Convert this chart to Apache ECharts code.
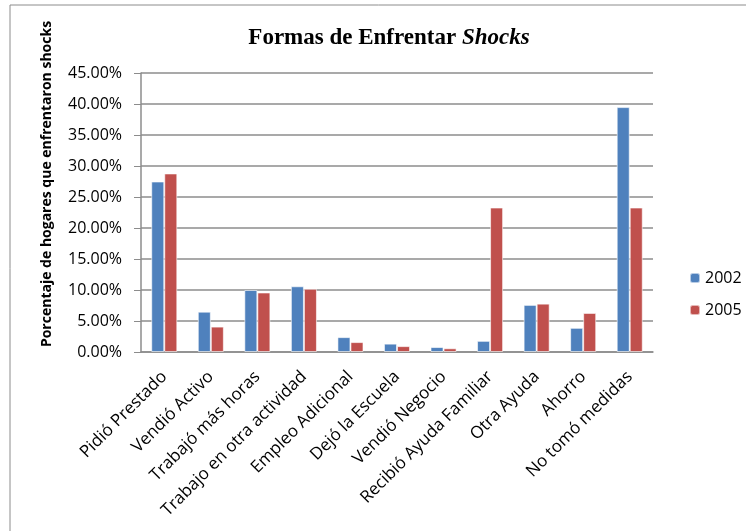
<!DOCTYPE html>
<html>
<head>
    <meta charset="utf-8"/>
    <title>Formas de Enfrentar Shocks</title>
    <script src="https://cdn.jsdelivr.net/npm/echarts@6/dist/echarts.min.js"></script>
</head>
<body style="margin:0">
<div id="main" style="width: 746px;height:531px;"></div>
<script type="text/javascript">
    // categorías y valores (%)
    var categorias = ['Pidió Prestado', 'Vendió Activo', 'Trabajó más horas', 'Trabajo en otra actividad',
        'Empleo Adicional', 'Dejó la Escuela', 'Vendió Negocio', 'Recibió Ayuda Familiar',
        'Otra Ayuda', 'Ahorro', 'No tomó medidas'];
    var datos2002 = [27.5, 6.5, 10.0, 10.6, 2.4, 1.35, 0.8, 1.8, 7.6, 3.9, 39.5];
    var datos2005 = [28.8, 4.1, 9.6, 10.2, 1.6, 0.95, 0.6, 23.3, 7.8, 6.3, 23.3];
    var series = ['2002', '2005'];
    var colores = ['#4F81BD', '#C0504D'];

    var myChart = echarts.init(document.getElementById('main'));
    var option = {
        animation: false,
        backgroundColor: '#fff',
        color: colores,
        title: {
            text: '{a|Formas de Enfrentar }{b|Shocks}',
            left: 384,
            top: 22,
            textAlign: 'center',
            textStyle: {
                rich: {
                    a: { fontFamily: 'Liberation Serif', fontWeight: 'bold', fontSize: 23, color: '#000' },
                    b: { fontFamily: 'Liberation Serif', fontWeight: 'bold', fontStyle: 'italic', fontSize: 23, color: '#000' }
                }
            }
        },
        legend: {
            orient: 'vertical',
            left: 684,
            top: 265,
            itemWidth: 10,
            itemHeight: 10,
            itemGap: 16,
            textStyle: { fontFamily: 'Open Sans', fontSize: 16, color: '#000' },
            data: series
        },
        grid: { left: 141, right: 93, top: 73, bottom: 179 },
        xAxis: {
            type: 'category',
            data: categorias,
            axisLine: { lineStyle: { color: '#8c8c8c', width: 1.5 } },
            axisTick: { show: false },
            axisLabel: {
                interval: 0,
                rotate: 45,
                margin: 22,
                fontFamily: 'Open Sans',
                fontSize: 17,
                color: '#000'
            }
        },
        yAxis: {
            type: 'value',
            min: 0,
            max: 45,
            interval: 5,
            axisLine: { show: true, lineStyle: { color: '#8c8c8c', width: 1.5 } },
            axisTick: { show: true, inside: false, length: 7, lineStyle: { color: '#8c8c8c' } },
            splitLine: { lineStyle: { color: '#8c8c8c', width: 1.5 } },
            axisLabel: {
                margin: 19,
                fontFamily: 'Open Sans',
                fontSize: 16,
                color: '#000',
                formatter: function (v) { return v.toFixed(2) + '%'; }
            }
        },
        graphic: [
            {
                type: 'rect',
                shape: { x: 10, y: 5, width: 760, height: 560 },
                style: { fill: 'none', stroke: '#8c8c8c', lineWidth: 1 },
                silent: true
            },
            {
                type: 'text',
                x: 47,
                y: 184,
                rotation: Math.PI / 2,
                style: {
                    text: 'Porcentaje de hogares que enfrentaron shocks',
                    fontFamily: 'Open Sans',
                    fontWeight: 'bold',
                    fontSize: 14,
                    fill: '#000',
                    align: 'center',
                    verticalAlign: 'middle'
                }
            }
        ],
        series: [
            {
                name: series[0],
                type: 'bar',
                barGap: '0%',
                barCategoryGap: '44%',
                itemStyle: { borderColor: 'rgba(255,255,255,0.6)', borderWidth: 1 },
                data: datos2002
            },
            {
                name: series[1],
                type: 'bar',
                itemStyle: { borderColor: 'rgba(255,255,255,0.6)', borderWidth: 1 },
                data: datos2005
            }
        ]
    };
    myChart.setOption(option);
</script>
</body>
</html>
